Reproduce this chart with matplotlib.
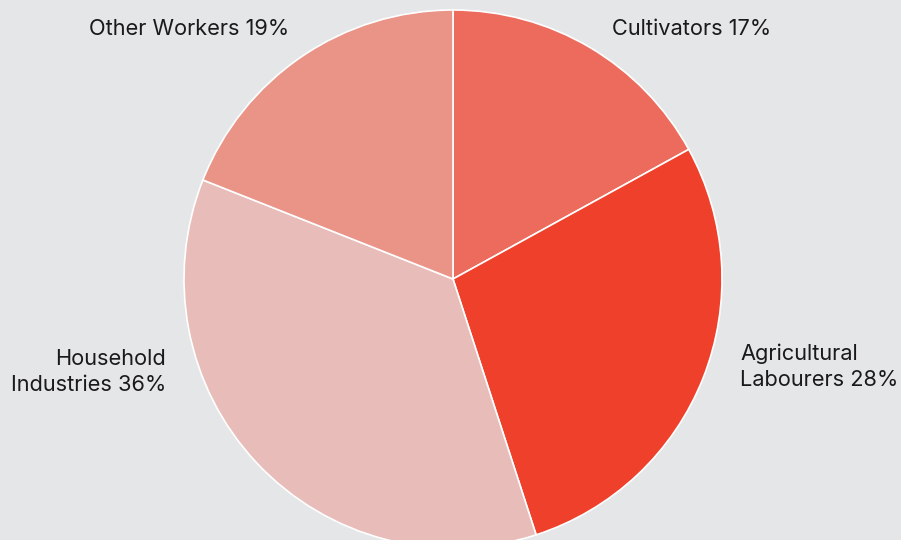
import matplotlib
matplotlib.use('Agg')
import matplotlib.pyplot as plt

categories = ['Cultivators', 'Agricultural\nLabourers', 'Household\nIndustries', 'Other Workers']
shares = [17, 28, 36, 19]
colors = ['#EC6B5C', '#EF402B', '#E8BCB9', '#EA9488']
bg = '#E5E6E7'

# label anchors in pixel space (x, y from top) and alignment
label_pos = [(612, 29, 'left'), (740, 367, 'left'), (166, 372, 'right'), (289, 29, 'right')]

plt.rcParams['font.family'] = ['Inter', 'DejaVu Sans']

fig = plt.figure(figsize=(9.01, 5.40), dpi=100)
fig.patch.set_facecolor(bg)
ax = fig.add_axes([0, 0, 1, 1])
ax.set_facecolor(bg)

labels = [f'{name} {v}%' for name, v in zip(categories, shares)]

wedges, texts = ax.pie(shares, labels=labels, colors=colors, startangle=90,
                       counterclock=False, center=(453, 540 - 279), radius=269,
                       wedgeprops=dict(edgecolor='white', linewidth=1.2),
                       textprops=dict(fontsize=15.7, color='#1a1a1a'))

for t, (px, py, ha) in zip(texts, label_pos):
    t.set_position((px, 540 - py))
    t.set_ha(ha)
    t.set_va('center')
    t.set_multialignment(ha)
    t.set_linespacing(1.36)

ax.set_xlim(0, 901)
ax.set_ylim(0, 540)
ax.set_aspect('auto')
ax.axis('off')

fig.savefig('out.png', dpi=100, facecolor=bg)
